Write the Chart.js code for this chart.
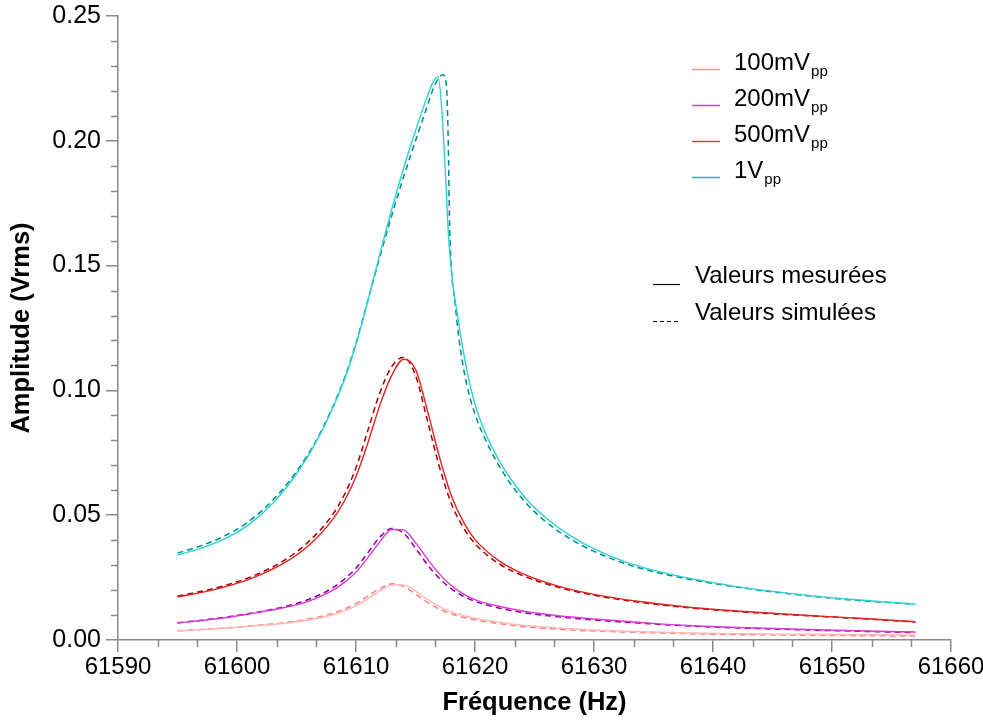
<!DOCTYPE html>
<html><head><meta charset="utf-8">
<script src="https://cdn.jsdelivr.net/npm/chart.js@4.4.0/dist/chart.umd.min.js"></script>
<style>html,body{margin:0;padding:0;background:#fff}#wrap{width:983px;height:720px}</style>
</head><body><div id="wrap"><canvas id="c" width="983" height="720"></canvas></div>
<script>
// ---- data ----
const freq = [61595, 61598, 61601, 61604, 61606, 61608, 61609, 61610, 61611, 61612, 61613, 61614, 61615, 61616, 61617, 61618, 61619, 61620, 61622, 61624, 61627, 61630, 61634, 61638, 61643, 61648, 61653, 61657];
const meas100 = [0.0036, 0.0044, 0.0054, 0.0067, 0.0080, 0.0100, 0.0116, 0.0137, 0.0165, 0.0196, 0.0220, 0.0221, 0.0196, 0.0163, 0.0134, 0.0113, 0.0098, 0.0087, 0.0071, 0.0059, 0.0048, 0.0040, 0.0033, 0.0028, 0.0025, 0.0023, 0.0021, 0.0020];
const sim100  = [0.0037, 0.0045, 0.0056, 0.0070, 0.0084, 0.0106, 0.0123, 0.0146, 0.0176, 0.0206, 0.0225, 0.0214, 0.0184, 0.0151, 0.0124, 0.0105, 0.0091, 0.0081, 0.0066, 0.0054, 0.0043, 0.0036, 0.0030, 0.0025, 0.0021, 0.0019, 0.0017, 0.0016];
const meas200 = [0.0068, 0.0083, 0.0104, 0.0130, 0.0155, 0.0198, 0.0230, 0.0272, 0.0330, 0.0393, 0.0443, 0.0441, 0.0390, 0.0325, 0.0265, 0.0218, 0.0185, 0.0162, 0.0135, 0.0116, 0.0097, 0.0084, 0.0070, 0.0058, 0.0049, 0.0042, 0.0036, 0.0032];
const sim200  = [0.0069, 0.0085, 0.0106, 0.0134, 0.0162, 0.0208, 0.0243, 0.0288, 0.0350, 0.0412, 0.0447, 0.0428, 0.0368, 0.0302, 0.0247, 0.0206, 0.0176, 0.0155, 0.0128, 0.0110, 0.0093, 0.0080, 0.0067, 0.0056, 0.0047, 0.0040, 0.0034, 0.0030];
const meas500 = [0.0172, 0.0201, 0.0243, 0.0310, 0.0378, 0.0480, 0.0555, 0.0655, 0.0790, 0.0940, 0.1060, 0.1125, 0.1085, 0.0920, 0.0735, 0.0580, 0.0475, 0.0402, 0.0318, 0.0266, 0.0216, 0.0183, 0.0153, 0.0131, 0.0113, 0.0098, 0.0085, 0.0073];
const sim500  = [0.0175, 0.0206, 0.0250, 0.0320, 0.0393, 0.0500, 0.0580, 0.0690, 0.0840, 0.0990, 0.1095, 0.1133, 0.1060, 0.0880, 0.0695, 0.0548, 0.0452, 0.0386, 0.0306, 0.0258, 0.0211, 0.0179, 0.0150, 0.0129, 0.0111, 0.0097, 0.0084, 0.0072];

const freqMeas1V = [61595, 61597, 61599, 61601, 61603, 61605, 61607, 61609, 61610, 61611, 61612, 61613, 61614, 61615, 61616, 61616.5, 61616.9, 61617.2, 61617.5, 61617.8, 61618.1, 61618.5, 61619.0, 61619.5, 61620, 61621, 61622, 61623, 61624.5, 61626, 61628, 61630, 61633, 61636, 61640, 61644, 61648, 61652, 61657];
const meas1V = [0.0340, 0.0368, 0.0406, 0.0462, 0.0548, 0.0665, 0.0825, 0.1040, 0.1185, 0.1360, 0.1545, 0.1725, 0.1890, 0.2040, 0.2180, 0.2238, 0.2256, 0.2130, 0.1880, 0.1600, 0.1440, 0.1310, 0.1160, 0.1040, 0.0945, 0.0815, 0.0722, 0.0645, 0.0555, 0.0488, 0.0418, 0.0365, 0.0307, 0.0268, 0.0230, 0.0201, 0.0179, 0.0161, 0.0144];
const freqSim1V = [61595, 61597, 61599, 61601, 61603, 61605, 61607, 61609, 61610, 61611, 61612, 61613, 61614, 61615, 61616, 61616.5, 61617.0, 61617.3, 61617.6, 61617.75, 61617.85, 61618.0, 61618.3, 61618.7, 61619.3, 61620, 61621, 61622, 61623, 61624.5, 61626, 61628, 61630, 61633, 61636, 61640, 61644, 61648, 61652, 61657];
const sim1V = [0.0348, 0.0378, 0.0418, 0.0475, 0.0560, 0.0675, 0.0830, 0.1045, 0.1190, 0.1360, 0.1535, 0.1700, 0.1855, 0.2000, 0.2140, 0.2210, 0.2255, 0.2265, 0.2220, 0.2000, 0.1700, 0.1500, 0.1360, 0.1190, 0.1025, 0.0905, 0.0790, 0.0700, 0.0625, 0.0538, 0.0472, 0.0405, 0.0355, 0.0300, 0.0263, 0.0227, 0.0199, 0.0177, 0.0159, 0.0143];

const seriesNames = ['100mV', '200mV', '500mV', '1V'];
const seriesSub = 'pp';
const typeLabels = ['Valeurs mesurées', 'Valeurs simulées'];
const xTitle = 'Fréquence (Hz)';
const yTitle = 'Amplitude (Vrms)';

// ---- styles ----
const FONT = '"Liberation Sans", Arial, sans-serif';
const axisColor = '#8a8a8a';
const solidColors = ['#ffb8b8', '#d83ad8', '#e02424', '#2ad2d2'];
const dashColors  = ['#ff8080', '#900090', '#a00000', '#008c8c'];
const legendColors = ['#ff8c8c', '#b050c0', '#c04848', '#20b0b0'];

const pts = (xs, ys) => xs.map((f, i) => ({x: f, y: ys[i]}));
const solidSets = [[freq, meas100], [freq, meas200], [freq, meas500], [freqMeas1V, meas1V]];
const dashSets  = [[freq, sim100], [freq, sim200], [freq, sim500], [freqSim1V, sim1V]];

const datasets = [];
solidSets.forEach((s, i) => datasets.push({
  label: seriesNames[i] + ' mes', data: pts(s[0], s[1]), borderColor: solidColors[i],
  borderWidth: 1.4, pointRadius: 0, fill: false, cubicInterpolationMode: 'monotone'
}));
dashSets.forEach((s, i) => datasets.push({
  label: seriesNames[i] + ' sim', data: pts(s[0], s[1]), borderColor: dashColors[i],
  borderWidth: 1.5, borderDash: [6, 4], pointRadius: 0, fill: false, cubicInterpolationMode: 'monotone'
}));

const minorTicks = {
  id: 'minorTicks',
  afterDraw(chart) {
    const {ctx, scales: {x, y}, chartArea} = chart;
    ctx.save();
    ctx.strokeStyle = axisColor; ctx.lineWidth = 1.5;
    ctx.beginPath();
    for (let k = 0; k < 7; k++) for (let j = 1; j <= 2; j++) {
      const px = Math.round(x.getPixelForValue(61590 + 10 * k + 10 * j / 3)) + 0.5;
      ctx.moveTo(px, chartArea.bottom); ctx.lineTo(px, chartArea.bottom + 7);
    }
    for (let k = 0; k < 5; k++) for (let j = 1; j <= 4; j++) {
      const py = Math.round(y.getPixelForValue(0.05 * k + 0.01 * j)) + 0.5;
      ctx.moveTo(chartArea.left, py); ctx.lineTo(chartArea.left - 7, py);
    }
    ctx.stroke();
    ctx.restore();
  }
};

const customLegend = {
  id: 'customLegend',
  afterDraw(chart) {
    const ctx = chart.ctx;
    ctx.save();
    ctx.textBaseline = 'alphabetic';
    seriesNames.forEach((name, i) => {
      const yb = 70 + i * 36;
      ctx.strokeStyle = legendColors[i]; ctx.lineWidth = 1.5; ctx.setLineDash([]);
      ctx.beginPath(); ctx.moveTo(692, yb - 0.5); ctx.lineTo(720, yb - 0.5); ctx.stroke();
      ctx.fillStyle = '#000';
      ctx.font = '24px ' + FONT;
      ctx.fillText(name, 734, yb);
      const w = ctx.measureText(name).width;
      ctx.font = '15px ' + FONT;
      ctx.fillText(seriesSub, 734 + w + 1, yb + 6);
    });
    const rows = [283, 320];
    rows.forEach((yb, i) => {
      ctx.strokeStyle = '#000'; ctx.lineWidth = 1.2;
      ctx.setLineDash(i === 0 ? [] : [4, 3]);
      ctx.beginPath(); ctx.moveTo(653, yb + 1.5); ctx.lineTo(680, yb + 1.5); ctx.stroke();
      ctx.setLineDash([]);
      ctx.fillStyle = '#000';
      ctx.font = '24px ' + FONT;
      ctx.fillText(typeLabels[i], 695, yb);
    });
    ctx.restore();
  }
};

new Chart(document.getElementById('c'), {
  type: 'line',
  data: {datasets},
  plugins: [minorTicks, customLegend],
  options: {
    responsive: false, animation: false, devicePixelRatio: 1,
    layout: {padding: {top: 16, right: 32, left: 0, bottom: 0}},
    plugins: {legend: {display: false}, tooltip: {enabled: false}},
    elements: {line: {borderCapStyle: 'butt'}},
    scales: {
      x: {
        type: 'linear', min: 61590, max: 61660,
        ticks: {stepSize: 10, color: '#000', font: {family: FONT, size: 24}, padding: 1,
                maxRotation: 0, callback: v => String(v)},
        grid: {drawOnChartArea: false, drawTicks: true, tickLength: 12, tickColor: axisColor, lineWidth: 1.5},
        border: {display: true, color: axisColor, width: 1.5},
        title: {display: true, text: xTitle, color: '#000', font: {family: FONT, size: 25.5, weight: 'bold'},
                padding: {top: 0, bottom: 2}},
        afterFit: s => { s.height = 80; s.paddingLeft = 0; s.paddingRight = 0; }
      },
      y: {
        type: 'linear', min: 0, max: 0.25,
        ticks: {stepSize: 0.05, color: '#000', font: {family: FONT, size: 25}, padding: 5,
                callback: v => Number(v).toFixed(2)},
        grid: {drawOnChartArea: false, drawTicks: true, tickLength: 12, tickColor: axisColor, lineWidth: 1.5},
        border: {display: true, color: axisColor, width: 1.5},
        title: {display: true, text: yTitle, color: '#000', font: {family: FONT, size: 25.5, weight: 'bold'},
                padding: {top: 7, bottom: 0}},
        afterFit: s => { s.width = 118; s.paddingTop = 0; s.paddingBottom = 0; }
      }
    }
  }
});
</script></body></html>
